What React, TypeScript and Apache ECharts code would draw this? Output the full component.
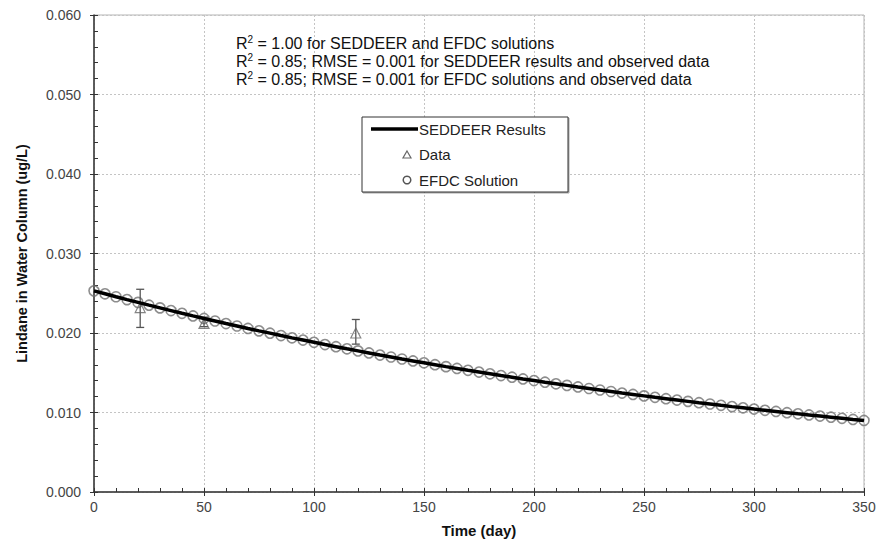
import React, { useEffect, useRef } from "react";
import * as echarts from "echarts";

const days = [
  0, 5, 10, 15, 20, 25, 30, 35, 40, 45, 50, 55, 60, 65, 70, 75, 80, 85, 90, 95,
  100, 105, 110, 115, 120, 125, 130, 135, 140, 145, 150, 155, 160, 165, 170, 175,
  180, 185, 190, 195, 200, 205, 210, 215, 220, 225, 230, 235, 240, 245, 250, 255,
  260, 265, 270, 275, 280, 285, 290, 295, 300, 305, 310, 315, 320, 325, 330, 335,
  340, 345, 350,
];

const seddeer = [
  0.0253, 0.02493, 0.02456, 0.0242, 0.02385, 0.0235, 0.02316, 0.02282, 0.02248,
  0.02215, 0.02183, 0.02151, 0.02119, 0.02088, 0.02057, 0.02027, 0.01998, 0.01968,
  0.01939, 0.01911, 0.01883, 0.01855, 0.01828, 0.01801, 0.01775, 0.01749, 0.01723,
  0.01698, 0.01673, 0.01649, 0.01625, 0.01601, 0.01577, 0.01554, 0.01531, 0.01509,
  0.01487, 0.01465, 0.01444, 0.01422, 0.01402, 0.01381, 0.01361, 0.01341, 0.01321,
  0.01302, 0.01283, 0.01264, 0.01245, 0.01227, 0.01209, 0.01191, 0.01174, 0.01157,
  0.0114, 0.01123, 0.01107, 0.0109, 0.01074, 0.01059, 0.01043, 0.01028, 0.01013,
  0.00998, 0.00983, 0.00969, 0.00955, 0.00941, 0.00927, 0.00913, 0.009,
];

const efdc = [
  0.0253, 0.02493, 0.02456, 0.0242, 0.02385, 0.0235, 0.02316, 0.02282, 0.02248,
  0.02215, 0.02183, 0.02151, 0.02119, 0.02088, 0.02057, 0.02027, 0.01998, 0.01968,
  0.01939, 0.01911, 0.01883, 0.01855, 0.01828, 0.01801, 0.01775, 0.01749, 0.01723,
  0.01698, 0.01673, 0.01649, 0.01625, 0.01601, 0.01577, 0.01554, 0.01531, 0.01509,
  0.01487, 0.01465, 0.01444, 0.01422, 0.01402, 0.01381, 0.01361, 0.01341, 0.01321,
  0.01302, 0.01283, 0.01264, 0.01245, 0.01227, 0.01209, 0.01191, 0.01174, 0.01157,
  0.0114, 0.01123, 0.01107, 0.0109, 0.01074, 0.01059, 0.01043, 0.01028, 0.01013,
  0.00998, 0.00983, 0.00969, 0.00955, 0.00941, 0.00927, 0.00913, 0.009,
];

const obsDays = [21, 50, 119];
const obsValues = [0.0232, 0.0212, 0.0200];
const obsLow = [0.0207, 0.0208, 0.0186];
const obsHigh = [0.0255, 0.022, 0.0217];

const annotations = [
  ["2", " = 1.00 for SEDDEER and EFDC solutions"],
  ["2", " = 0.85; RMSE = 0.001 for SEDDEER results and observed data"],
  ["2", " = 0.85; RMSE = 0.001 for EFDC solutions and observed data"],
];

const legendNames = ["SEDDEER Results", "Data", "EFDC Solution"];

const FONT = "'Liberation Sans', Arial, sans-serif";

export default function App() {
  const ref = useRef<HTMLDivElement>(null);

  useEffect(() => {
    if (!ref.current) return;
    const chart = echarts.init(ref.current, undefined, { renderer: "svg" });

    const tickColor = "#333";
    const annoGraphics = annotations.map((a, i) => ({
      type: "text",
      left: 236,
      top: 34 + i * 18,
      z: 10,
      style: {
        text: `{r|R}{s|${a[0]}}{r|${a[1]}}`,
        rich: {
          r: { fontSize: 16, fontFamily: FONT, fill: "#111", lineHeight: 19 },
          s: { fontSize: 10, fontFamily: FONT, fill: "#111", lineHeight: 10, verticalAlign: "top" },
        },
      },
    }));

    const lgX = 362, lgY = 117;
    const legendGraphics: any[] = [
      {
        type: "rect",
        shape: { x: lgX, y: lgY, width: 206, height: 75 },
        style: { fill: "#fff", stroke: "#333", lineWidth: 1, shadowColor: "rgba(0,0,0,0.35)", shadowOffsetX: 1, shadowOffsetY: 1, shadowBlur: 1 },
        z: 20,
      },
      {
        type: "line",
        shape: { x1: 371, y1: 129, x2: 418, y2: 129 },
        style: { stroke: "#000", lineWidth: 3.5 },
        z: 21,
      },
      {
        type: "polygon",
        shape: { points: [[407, 151], [411, 158], [403, 158]] },
        style: { fill: "none", stroke: "#666", lineWidth: 1.2 },
        z: 21,
      },
      {
        type: "circle",
        shape: { cx: 407, cy: 180, r: 3.8 },
        style: { fill: "none", stroke: "#555", lineWidth: 1.5 },
        z: 21,
      },
    ];
    legendNames.forEach((n, i) => {
      legendGraphics.push({
        type: "text",
        x: 419,
        y: 129 + i * 25.5,
        z: 21,
        style: { text: n, fontSize: 15, fontFamily: FONT, fill: "#222", verticalAlign: "middle" },
      });
    });

    const errData = obsDays.map((d, i) => [d, obsLow[i], obsHigh[i]]);

    const option: any = {
      animation: false,
      backgroundColor: "#fff",
      textStyle: { fontFamily: FONT },
      grid: {
        left: 94,
        right: 16,
        top: 15,
        bottom: 60,
        show: true,
        borderColor: "#b5b5b5",
        borderWidth: 1,
        backgroundColor: "transparent",
      },
      xAxis: [
        {
          type: "value",
          min: 0,
          max: 350,
          interval: 50,
          name: "Time (day)",
          nameLocation: "middle",
          nameGap: 31,
          nameTextStyle: { fontSize: 15, fontWeight: "bold", color: "#111", fontFamily: FONT },
          axisLine: { show: true, onZero: false, lineStyle: { color: "#333", width: 1.5 } },
          axisTick: { show: true, inside: true, length: 4, lineStyle: { color: tickColor } },
          minorTick: { show: true, splitNumber: 5, length: 4, lineStyle: { color: tickColor } },
          axisLabel: { fontSize: 14, color: "#444", margin: 8, fontFamily: FONT },
          splitLine: { show: true, lineStyle: { color: "#c4c4c4", type: [2, 2], width: 1 } },
        },
        {
          type: "value",
          min: 0,
          max: 350,
          interval: 50,
          position: "bottom",
          axisLine: { show: false },
          axisTick: { show: true, inside: false, length: 4, lineStyle: { color: tickColor } },
          axisLabel: { show: false },
          splitLine: { show: false },
        },
      ],
      yAxis: [
        {
          type: "value",
          min: 0,
          max: 0.06,
          interval: 0.01,
          name: "Lindane in Water Column (ug/L)",
          nameLocation: "middle",
          nameGap: 65,
          nameTextStyle: { fontSize: 14.5, fontWeight: "bold", color: "#111", fontFamily: FONT },
          axisLine: { show: true, onZero: false, lineStyle: { color: "#333", width: 1.5 } },
          axisTick: { show: true, inside: true, length: 4, lineStyle: { color: tickColor } },
          minorTick: { show: true, splitNumber: 5, length: 4, lineStyle: { color: tickColor } },
          axisLabel: {
            fontSize: 14,
            color: "#444",
            margin: 13,
            fontFamily: FONT,
            formatter: (v: number) => v.toFixed(3),
          },
          splitLine: { show: true, lineStyle: { color: "#c4c4c4", type: [2, 2], width: 1 } },
        },
        {
          type: "value",
          min: 0,
          max: 0.06,
          interval: 0.01,
          position: "left",
          axisLine: { show: false },
          axisTick: { show: true, inside: false, length: 4, lineStyle: { color: tickColor } },
          axisLabel: { show: false },
          splitLine: { show: false },
        },
      ],
      series: [
        {
          name: "EFDC Solution",
          type: "scatter",
          data: days.map((d, i) => [d, efdc[i]]),
          symbol: "circle",
          symbolSize: 10,
          itemStyle: { color: "rgba(255,255,255,0)", borderColor: "#707070", borderWidth: 1.6 },
          z: 2,
        },
        {
          name: "Error",
          type: "custom",
          data: errData,
          encode: { x: 0, y: [1, 2] },
          z: 3,
          renderItem: (params: any, api: any) => {
            const x = api.value(0);
            const lo = api.coord([x, api.value(1)]);
            const hi = api.coord([x, api.value(2)]);
            const w = 4;
            const st = { stroke: "#555", lineWidth: 1.3 };
            return {
              type: "group",
              children: [
                { type: "line", shape: { x1: lo[0], y1: lo[1], x2: hi[0], y2: hi[1] }, style: st },
                { type: "line", shape: { x1: lo[0] - w, y1: lo[1], x2: lo[0] + w, y2: lo[1] }, style: st },
                { type: "line", shape: { x1: hi[0] - w, y1: hi[1], x2: hi[0] + w, y2: hi[1] }, style: st },
              ],
            };
          },
        },
        {
          name: "Data",
          type: "scatter",
          data: obsDays.map((d, i) => [d, obsValues[i]]),
          symbol: "triangle",
          symbolSize: 10,
          itemStyle: { color: "rgba(255,255,255,0)", borderColor: "#666", borderWidth: 1.2 },
          z: 4,
        },
        {
          name: "SEDDEER Results",
          type: "line",
          data: days.map((d, i) => [d, seddeer[i]]),
          showSymbol: false,
          symbol: "none",
          lineStyle: { color: "#000", width: 3.5 },
          z: 5,
        },
      ],
      graphic: [...annoGraphics, ...legendGraphics],
    };

    chart.setOption(option);
    return () => chart.dispose();
  }, []);

  return (
    <div
      ref={ref}
      style={{ position: "fixed", left: 0, top: 0, width: 880, height: 552, background: "#fff" }}
    />
  );
}
